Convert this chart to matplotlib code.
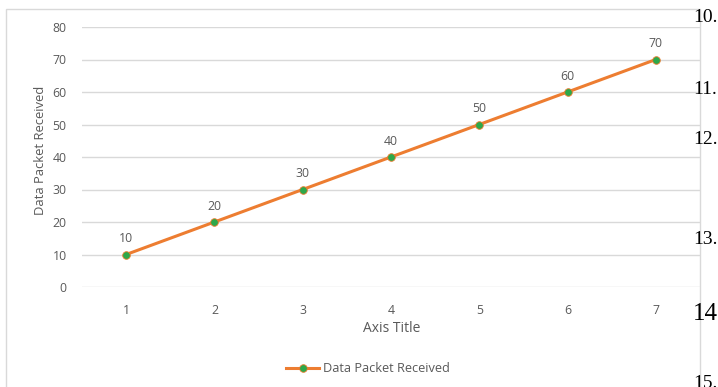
import matplotlib
matplotlib.use("Agg")
import matplotlib.pyplot as plt
from matplotlib.lines import Line2D
from matplotlib.patches import Rectangle

# Data
categories = ["1", "2", "3", "4", "5", "6", "7"]
packets = [10, 20, 30, 40, 50, 60, 70]
y_ticks = [0, 10, 20, 30, 40, 50, 60, 70, 80]
side_numbers = ["10.", "11.", "12.", "13.", "14", "15."]

W, H = 718, 387
fig = plt.figure(figsize=(W / 100, H / 100), dpi=100)
fig.patch.set_facecolor("white")

def fx(px):
    return px / W

def fy(py):
    return 1 - py / H

text_gray = "#595959"
grid_gray = "#D9D9D9"
line_orange = "#ED7D31"
marker_green = "#2DA84A"
ui_font = ["Open Sans", "DejaVu Sans"]

# Chart frame
fig.patches.append(Rectangle((fx(6), fy(400)), fx(700) - fx(6), fy(9) - fy(400),
                             transform=fig.transFigure, fill=False,
                             edgecolor=grid_gray, linewidth=1.0))

ax = fig.add_axes([fx(82), fy(287), fx(700) - fx(82), fy(27) - fy(287)])
x = list(range(1, len(categories) + 1))
ax.plot(x, packets, color=line_orange, linewidth=2.2, marker="o",
        markersize=5.5, markerfacecolor=marker_green, markeredgecolor=line_orange,
        markeredgewidth=0.6, zorder=3, clip_on=False)
for xi, v in zip(x, packets):
    ax.annotate(str(v), (xi, v), xytext=(0, 6.5), textcoords="offset points",
                ha="center", va="bottom", fontsize=8.8, color=text_gray,
                family=ui_font)

ax.set_xlim(0.5, len(categories) + 0.5)
ax.set_ylim(0, 80)
ax.set_yticks(y_ticks)
ax.set_xticks(x)
ax.set_xticklabels(categories)
ax.grid(axis="y", color=grid_gray, linewidth=1.0)
ax.set_axisbelow(True)
for s in ax.spines.values():
    s.set_visible(False)
ax.tick_params(length=0, colors=text_gray, labelsize=8.8)
ax.tick_params(axis="y", pad=11)
ax.tick_params(axis="x", pad=12)
for lab in ax.get_xticklabels() + ax.get_yticklabels():
    lab.set_family(ui_font)

fig.text(fx(392), fy(329), "Axis Title", ha="center", va="center",
         fontsize=10, color=text_gray, family=ui_font)
fig.text(fx(40), fy(150), "Data Packet Received", ha="center", va="center",
         rotation=90, fontsize=9.4, color=text_gray, family=ui_font)

# Legend
handle = Line2D([], [], color=line_orange, linewidth=2.2, marker="o",
                markersize=5.5, markerfacecolor=marker_green,
                markeredgecolor=line_orange, markeredgewidth=0.6)
fig.legend([handle], ["Data Packet Received"], loc="center",
           bbox_to_anchor=(fx(368), fy(369)), frameon=False,
           prop={"family": ui_font, "size": 9.2}, labelcolor=text_gray,
           handlelength=2.6, handletextpad=0.3)

# Numbering of the surrounding document text
side_y = [18, 89, 139, 240, 314, 384]
side_size = [14, 14, 14, 14, 18, 14]
for t, py, sz in zip(side_numbers, side_y, side_size):
    fig.text(fx(693), fy(py), t, ha="left", va="center", fontsize=sz,
             color="black", family=["Liberation Serif", "DejaVu Serif"])

fig.savefig("out.png", dpi=100, facecolor="white")
